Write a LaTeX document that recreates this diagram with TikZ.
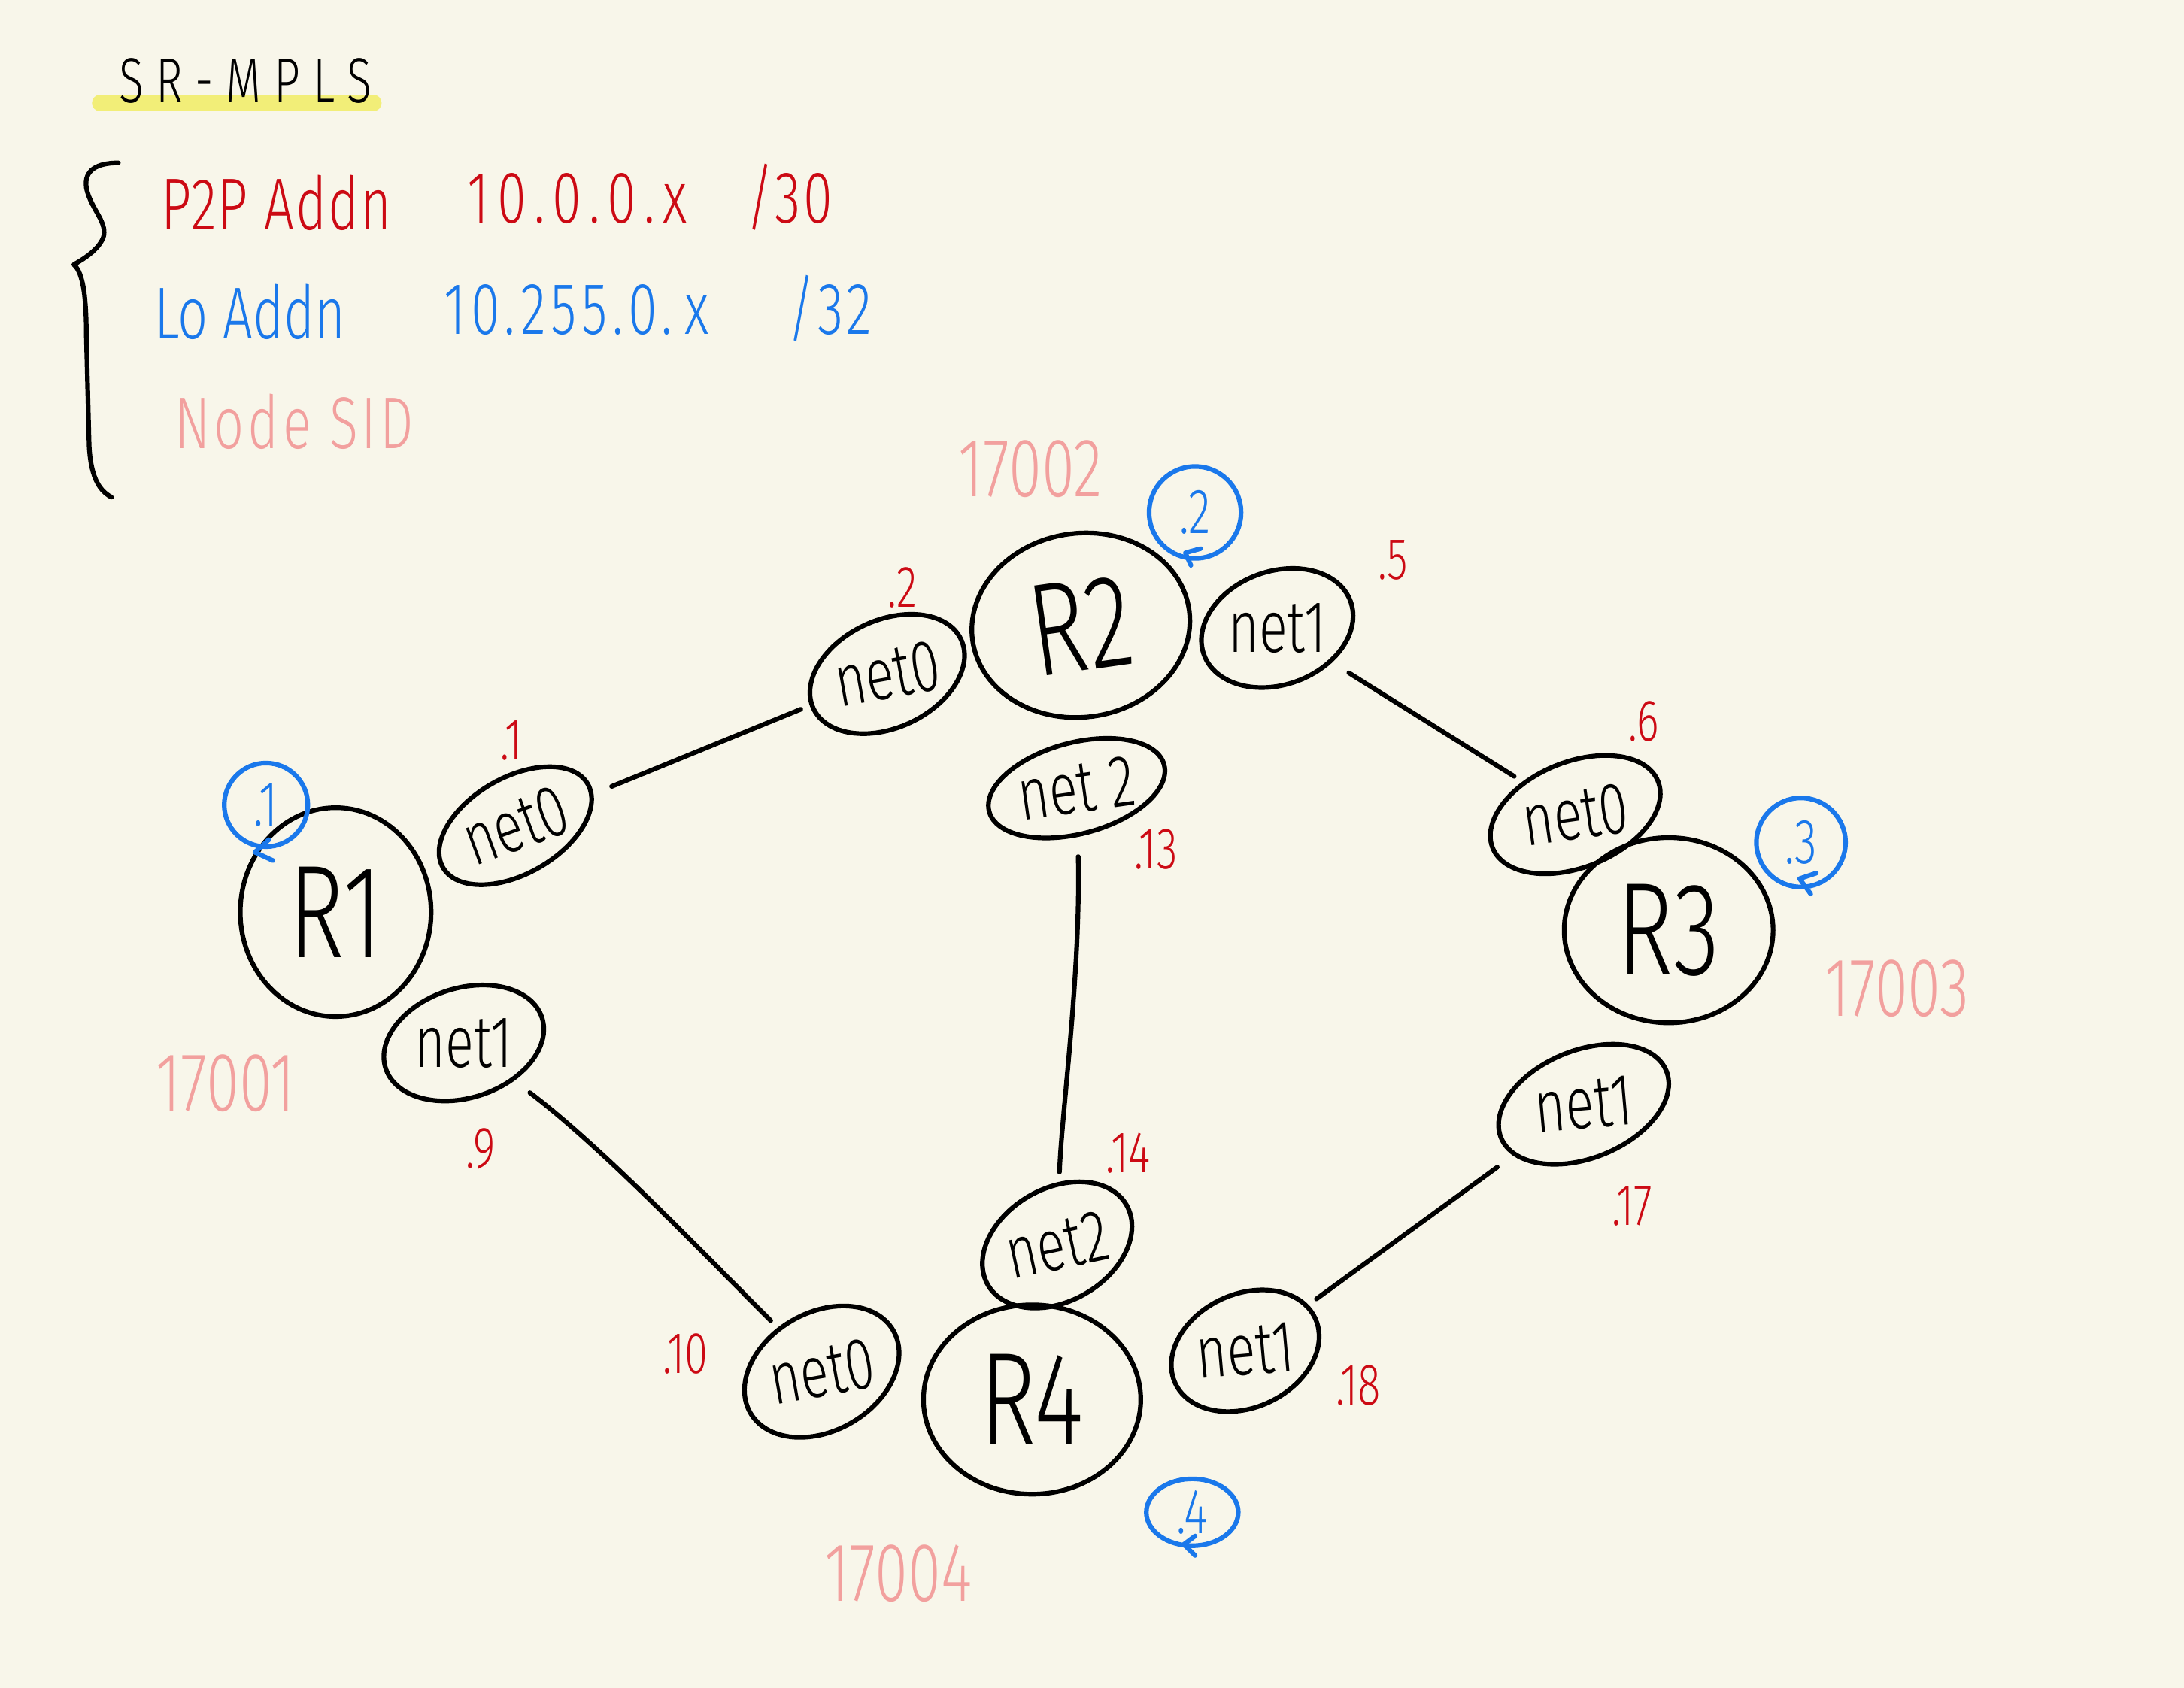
\documentclass[tikz,border=0pt]{standalone}
\usepackage{fontspec}
\setmainfont{Fira Sans Light}[FakeStretch=0.72]
\usetikzlibrary{shapes.geometric}

\definecolor{paper}{HTML}{F8F6EA}
\definecolor{inkred}{HTML}{CC0A14}
\definecolor{inkblue}{HTML}{1A78EB}
\definecolor{inkpink}{HTML}{F2A09E}
\definecolor{marker}{HTML}{F2EE78}

\tikzset{
  pen/.style={line width=0.95pt, line cap=round, line join=round},
  router/.style={ellipse, draw, pen, inner sep=0pt, font=\fontsize{27}{27}\selectfont},
  iface/.style={ellipse, draw, pen, inner sep=0pt, font=\fontsize{15}{15}\selectfont},
  ip/.style={text=inkred, inner sep=0pt, font=\fontsize{12}{12}\selectfont},
  loopback/.style={circle, draw=inkblue, pen, text=inkblue, inner sep=0pt, font=\fontsize{13}{13}\selectfont},
  hook/.style={draw=inkblue, pen},
  sid/.style={text=inkpink, inner sep=0pt, font=\fontsize{17}{17}\selectfont},
  link/.style={pen, shorten <=4pt, shorten >=2pt},
  legend/.style={anchor=base west, inner sep=0pt, font=\fontsize{15}{15}\selectfont},
  spaced/.style={font=\fontsize{15}{15}\selectfont\addfontfeature{LetterSpace=#1}},
}

\begin{document}
\begin{tikzpicture}[x=0.1mm, y=-0.1mm]
  % page
  \fill[paper] (0,0) rectangle (1568,1212);
  \useasboundingbox (0,0) rectangle (1568,1212);

  % title with marker underline
  \draw[marker, line width=3.4pt, line cap=round] (72,74) -- (268,74);
  \node[inner sep=0pt, font=\fontsize{13}{13}\selectfont\addfontfeature{LetterSpace=20}] (title) at (176,58) {SR-MPLS};

  % brace grouping the legend
  \draw[pen] (85,117) .. controls (70,117) and (60,122) .. (62,135)
     .. controls (65,150) and (78,160) .. (74,171)
     .. controls (70,180) and (60,186) .. (53,190)
     .. controls (60,196) and (62,215) .. (62,242)
     -- (64,320) .. controls (65,340) and (70,352) .. (80,357);

  % legend
  \node[legend, text=inkred, spaced=2] (p2p) at (115,165) {P2P Addn};
  \node[legend, text=inkred, spaced=11] (p2pnet) at (335,160) {10.0.0.x};
  \node[legend, text=inkred, spaced=4] (p2plen) at (535,160) {/30};
  \node[legend, text=inkblue] (lo) at (110,243) {Lo Addn};
  \node[legend, text=inkblue, spaced=7] (lonet) at (318,240) {10.255.0.\,x};
  \node[legend, text=inkblue, spaced=5] (lolen) at (565,240) {/32};
  \node[legend, text=inkpink, spaced=5] (sidkey) at (125,322) {Node SID};

  % routers
  \node[router, minimum width=15.7mm, minimum height=13.2mm, rotate=8] (R2) at (776,449) {R2};
  \node[router, minimum width=13.7mm, minimum height=15mm] (R1) at (241,655) {R1};
  \node[router, minimum width=15mm, minimum height=13.3mm] (R3) at (1198,668) {R3};
  \node[router, minimum width=15.6mm, minimum height=13.6mm] (R4) at (741,1005) {R4};

  % interfaces
  \node[iface, minimum width=11.4mm, minimum height=6.6mm, rotate=25] (r2n0) at (637,484) {\rotatebox{-15}{net0}};
  \node[iface, minimum width=11.2mm, minimum height=6.6mm, rotate=20] (r2n1) at (917,451) {\rotatebox{-20}{net1}};
  \node[iface, minimum width=13mm, minimum height=6.2mm, rotate=15] (r2n2) at (773,566) {\rotatebox{-7}{net 2}};
  \node[iface, minimum width=12mm, minimum height=6.6mm, rotate=30] (r1n0) at (370,593) {\rotatebox{-10}{net0}};
  \node[iface, minimum width=11.8mm, minimum height=6.4mm, rotate=18] (r1n1) at (333,749) {\rotatebox{-18}{net1}};
  \node[iface, minimum width=12.8mm, minimum height=7mm, rotate=22] (r3n0) at (1131,585) {\rotatebox{-14}{net0}};
  \node[iface, minimum width=12.8mm, minimum height=6.6mm, rotate=22] (r3n1) at (1137,793) {\rotatebox{-17}{net1}};
  \node[iface, minimum width=11.6mm, minimum height=6.6mm, rotate=30] (r4n0) at (590,985) {\rotatebox{-20}{net0}};
  \node[iface, minimum width=11.2mm, minimum height=6.4mm, rotate=30] (r4n2) at (759,894) {\rotatebox{-18}{net2}};
  \node[iface, minimum width=10mm, minimum height=6mm, rotate=25] (r4n1) at (894,970) {\rotatebox{-20}{net1}};

  % point-to-point links
  \draw[link] (r1n0) -- (r2n0);
  \draw[link] (r2n1) -- (r3n0);
  \draw[link] (r2n2) .. controls (776,700) and (762,800) .. (r4n2);
  \draw[link] (r1n1) .. controls (430,822) and (500,895) .. (r4n0);
  \draw[link] (r3n1) -- (r4n1);

  % interface addresses
  \node[ip] (a1) at (367,532) {.1};
  \node[ip] (a2) at (648,422) {.2};
  \node[ip] (a5) at (1000,402) {.5};
  \node[ip] (a6) at (1180,518) {.6};
  \node[ip] (a13) at (830,610) {.13};
  \node[ip] (a9) at (345,825) {.9};
  \node[ip] (a14) at (810,828) {.14};
  \node[ip] (a17) at (1172,866) {.17};
  \node[ip] (a10) at (492,972) {.10};
  \node[ip] (a18) at (975,995) {.18};

  % loopback addresses
  \node[loopback, minimum size=6mm] (lo1) at (191,578) {.1};
  \node[loopback, minimum size=6.6mm] (lo2) at (858,368) {.2};
  \node[loopback, minimum size=6.4mm] (lo3) at (1293,605) {.3};
  \node[loopback, ellipse, minimum width=6.6mm, minimum height=4.8mm] (lo4) at (856,1086) {.4};
  \coordinate (h1a) at (193,603); \coordinate (h1b) at (183,612); \coordinate (h1c) at (196,618);
  \coordinate (h2a) at (862,394); \coordinate (h2b) at (851,397); \coordinate (h2c) at (855,406);
  \coordinate (h3a) at (1304,627); \coordinate (h3b) at (1292,631); \coordinate (h3c) at (1300,642);
  \coordinate (h4a) at (858,1103); \coordinate (h4b) at (850,1109); \coordinate (h4c) at (858,1117);
  \draw[hook] (h1a) -- (h1b) -- (h1c);
  \draw[hook] (h2a) -- (h2b) -- (h2c);
  \draw[hook] (h3a) -- (h3b) -- (h3c);
  \draw[hook] (h4a) -- (h4b) -- (h4c);

  % node SIDs
  \node[sid] (s2) at (740,337) {17002};
  \node[sid] (s1) at (162,778) {17001};
  \node[sid] (s3) at (1362,710) {17003};
  \node[sid] (s4) at (645,1130) {17004};
\end{tikzpicture}
\end{document}
